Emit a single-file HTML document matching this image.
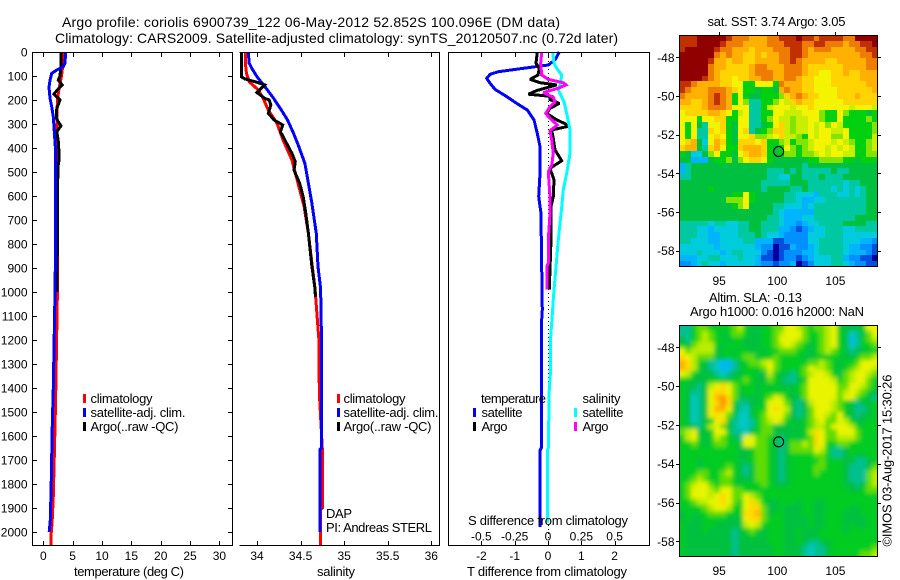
<!DOCTYPE html>
<html>
<head>
<meta charset="utf-8">
<title>Argo profile</title>
<style>
html,body{margin:0;padding:0;background:#fff;}
svg{display:block;}
text{font-family:"Liberation Sans",sans-serif;font-size:12px;fill:#000;}
.lg{font-size:13px;}
.ttl{font-size:14px;}
.frame{fill:none;stroke:#000;stroke-width:1;shape-rendering:crispEdges;}
</style>
</head>
<body>
<svg id="chart" xmlns="http://www.w3.org/2000/svg" width="900" height="580" viewBox="0 0 900 580">
<defs>
<clipPath id="clip-sla"><rect x="679" y="325" width="199" height="232"/></clipPath>
<filter id="soft" filterUnits="userSpaceOnUse" x="640" y="290" width="260" height="290"><feGaussianBlur stdDeviation="2"/></filter>
</defs>
<text class="ttl" x="62" y="27" textLength="498" lengthAdjust="spacing">Argo profile: coriolis 6900739_122 06-May-2012 52.852S 100.096E (DM data)</text>
<text class="ttl" x="55" y="43" textLength="563" lengthAdjust="spacing">Climatology: CARS2009. Satellite-adjusted climatology: synTS_20120507.nc (0.72d later)</text>

<g id="g-temp"></g>
<g id="g-sal"></g>
<g id="g-diff"></g>
<g id="g-sst"></g>
<g id="g-sla"></g>

<path class="frame" d="M32.5 52.5H232.5V545.5H32.5Z"/>
<path class="frame" d="M239.5 52.5H439.5V545.5H239.5"/>
<path class="frame" d="M448.5 52.5H649.5V545.5H448.5Z"/>
<rect class="frame" x="679.5" y="35.5" width="198" height="231"/>
<rect class="frame" x="679.5" y="325.5" width="198" height="231"/>

<text class="lg" x="74" y="576" textLength="110" lengthAdjust="spacing">temperature (deg C)</text>
<text class="lg" x="317" y="576" textLength="38" lengthAdjust="spacing">salinity</text>
<text class="lg" x="467" y="576" textLength="160" lengthAdjust="spacing">T difference from climatology</text>
<text class="lg" x="468" y="525" textLength="160" lengthAdjust="spacing">S difference from climatology</text>

<rect x="83" y="394" width="3" height="9" fill="#ff0000"/>
<rect x="83" y="408" width="3" height="9" fill="#0000ff"/>
<rect x="83" y="422" width="3" height="9" fill="#000"/>
<text class="lg" x="90.500" y="403" textLength="62" lengthAdjust="spacing">climatology</text>
<text class="lg" x="90.500" y="417" textLength="95" lengthAdjust="spacing">satellite-adj. clim.</text>
<text class="lg" x="90.500" y="431" textLength="88" lengthAdjust="spacing">Argo(..raw -QC)</text>

<rect x="337" y="394" width="3" height="9" fill="#ff0000"/>
<rect x="337" y="408" width="3" height="9" fill="#0000ff"/>
<rect x="337" y="422" width="3" height="9" fill="#000"/>
<text class="lg" x="343.500" y="403" textLength="62" lengthAdjust="spacing">climatology</text>
<text class="lg" x="343.500" y="417" textLength="95" lengthAdjust="spacing">satellite-adj. clim.</text>
<text class="lg" x="343.500" y="431" textLength="88" lengthAdjust="spacing">Argo(..raw -QC)</text>

<text class="lg" x="326" y="518" textLength="26" lengthAdjust="spacing">DAP</text>
<text class="lg" x="326" y="532" textLength="106" lengthAdjust="spacing">PI: Andreas STERL</text>

<text class="lg" x="481" y="403" textLength="65" lengthAdjust="spacing">temperature</text>
<text class="lg" x="582.500" y="403" textLength="38" lengthAdjust="spacing">salinity</text>
<rect x="473" y="408" width="3" height="9" fill="#0000ff"/>
<rect x="473" y="422" width="3" height="9" fill="#000"/>
<rect x="574" y="408" width="3" height="9" fill="#00ffff"/>
<rect x="574" y="422" width="3" height="9" fill="#ff00ff"/>
<text class="lg" x="481.500" y="417" textLength="41" lengthAdjust="spacing">satellite</text>
<text class="lg" x="481.500" y="431" textLength="26" lengthAdjust="spacing">Argo</text>
<text class="lg" x="582.500" y="417" textLength="41" lengthAdjust="spacing">satellite</text>
<text class="lg" x="582.500" y="431" textLength="26" lengthAdjust="spacing">Argo</text>

<text class="lg" x="707.500" y="26" textLength="138" lengthAdjust="spacing">sat. SST: 3.74  Argo: 3.05</text>
<text class="lg" x="709" y="302" textLength="93" lengthAdjust="spacing">Altim. SLA: -0.13</text>
<text class="lg" x="690" y="316" textLength="174" lengthAdjust="spacing">Argo h1000: 0.016 h2000: NaN</text>
<text class="lg" transform="translate(891.500 546.500) rotate(-90)" textLength="172" lengthAdjust="spacing">©IMOS 03-Aug-2017 15:30:26</text>
</svg>
<script>
// axis ticks
const depthTicks = [0,100,200,300,400,500,600,700,800,900,1000,1100,1200,1300,1400,1500,1600,1700,1800,1900,2000];
const tempTicks = [0,5,10,15,20,25,30];
const salTicks = [34,34.5,35,35.5,36];
const tDiffTicks = [-2,-1,0,1,2];
const sDiffTicks = [-0.5,-0.25,0,0.25,0.5];
const sDiffLabels = ['-0.5','-0.25','0','0.25','0.5'];
const latTicks = [48,50,52,54,56,58];
const lonTicks = [95,100,105];

// temperature profiles
const tClimDepth = [0,60,100,150,200,300,500,1000,1300,1450,1650,1850,1960,2020,2054];
const tClimValues = [3.3,3.3,3.1,2.7,2.4,2.3,2.4,2.4,2.2,2.1,1.9,1.7,1.5,1.3,1.3];
const tSatDepth = [0,47,61,75,89,117,147,193,228,270,332,394,478,900,1000,1400,1550,1800,1950,2000];
const tSatValues = [3.8,3.7,3.4,2.3,1.43,1.14,.97,1.14,1.43,1.7,1.87,2.05,2.05,2.05,2.0,1.7,1.53,1.35,1.2,1.0];
const tArgoDepth = [0,60,100,117,137,158,176,200,235,276,308,332,380,450,478,600,800,1000];
const tArgoValues = [3.0,3.0,2.85,2.56,3.2,2.4,1.8,2.85,2.3,2.2,3.0,2.3,2.6,2.7,2.5,2.4,2.4,2.3];

// salinity profiles
const sClimDepth = [0,60,90,124,158,193,242,297,367,450,547,644,756,894,985,1200,1400,1450,1660,1900,1905,2054];
const sClimValues = [33.87,33.87,33.88,33.91,34.015,34.07,34.13,34.23,34.30,34.40,34.47,34.54,34.59,34.635,34.665,34.71,34.715,34.72,34.75,34.75,34.73,34.73];
const sSatDepth = [0,47,68,103,144,193,242,283,339,394,464,547,631,756,894,985,1200,1650,1655,2000];
const sSatValues = [33.90,33.91,33.94,34.0,34.09,34.19,34.28,34.35,34.42,34.48,34.55,34.59,34.63,34.68,34.70,34.73,34.74,34.74,34.725,34.725];
const sArgoDepth = [0,103,112,124,137,151,169,193,200,221,255,283,304,332,367,422,457,492,547,603,672,756,894,985,1020];
const sArgoValues = [33.82,33.82,33.86,33.98,34.09,34.05,34.0,34.09,34.14,34.16,34.13,34.195,34.295,34.27,34.32,34.40,34.44,34.425,34.49,34.53,34.56,34.59,34.63,34.665,34.67];

// difference profiles
const dtSatDepth = [0,33,54,68,82,93,110,131,156,186,214,242,283,339,394,506,603,672,783,1075,1140,1650,1660,1980];
const dtSatValues = [.34,.21,.01,-.74,-1.49,-1.74,-1.84,-1.74,-1.59,-1.24,-.94,-.62,-.42,-.32,-.24,-.24,-.28,-.21,-.2,-.17,-.2,-.2,-.24,-.24];
const dtArgoDepth = [0,47,68,96,114,128,137,161,176,186,197,214,235,256,283,308,325,360,408,453,485,533,603,644,783,990];
const dtArgoValues = [-.32,-.36,-.26,-.3,-.54,-.24,.26,-.34,-.59,.16,.04,.34,.06,-.04,.26,.66,.11,.16,.21,.41,.06,.18,.16,.09,.09,.04];
const dsSatDepth = [0,47,68,96,125,158,207,256,325,422,506,575,672,742,783,992,1200,1325,1400,1650,1660,1960];
const dsSatValues = [.035,.045,.065,.103,.095,.077,.12,.14,.165,.165,.14,.115,.098,.085,.077,.045,.019,.02,.01,.002,-.005,-.005];
const dsArgoDepth = [0,47,96,114,128,137,151,169,189,207,228,256,276,304,328,367,422,471,499,603,672,783,880,890,990];
const dsArgoValues = [-.047,-.055,-.047,.002,.115,.135,.077,-.035,.04,.052,.015,-.017,.015,.07,.015,.028,.04,.028,.002,.015,.015,.002,.002,-.006,-.006];

const profileFloat = [100.096,52.852];

// colour levels for the map cells
const mapLevels = '0123456789abcdef';
const sstColors = ['#0000a0','#0050e0','#0090ff','#00b4ff','#00ccdd','#00c8a0','#00c040','#00d010','#84e400','#c8ee00','#f4f400','#ffd400','#ffb000','#ee7c00','#c03000','#900000'];
const slaColors = ['#0000a0','#0050e0','#0090ff','#00b8f0','#00c8c0','#00c090','#00c040','#00cc20','#60dd00','#b8ec00','#e8f400','#ffd800','#ffb000','#ff9000','#c03000','#900000'];

// sea surface temperature grid, north to south
const sstRows = [
"eeeff fffed ddccc ddeee feede eeedd ffff",
"eeeff ffedd dcccc dddee eddee dddcd deef",
"effff feddc ccbcc cddde edcdd dcccc ddee",
"fffff fdcdc cbbcb ccdde edccc ccccc cdde",
"fffff eccbc cbbcc ccdde dcccc bbccc ccdd",
"fffff dccbb bbcdd cccdd dcbbb bbbcc ccdd",
"fffff dcbbb bbcdd dccdd dcbba abbcb bccc",
"ffffe dcbba bbccd dccdd cbbaa abbbb bccc",
"eedcc ccbba a77aa a7dcc cbbaa abbbb bbcc",
"edccc dddcb a7767 76cdc cbbaa aabbb bbbc",
"dcccc dedc7 a7667 778bc dcbba aabbb cbbb",
"ccbbc dedc7 a8557 78a9b cbbaa aaabb bbbb",
"bbbbc dddca aa557 9aaa9 aabaa aaaa9 aaa9",
"abbbb ccba7 9a557 7aa99 9aaa8 77a87 7767",
"aaa7a abb77 aa557 8a998 99aa8 77a77 7787",
"a7a65 aab76 aa556 7ab98 99a9a 8a977 7778",
"a7a55 bab76 ab567 8bb98 99a9a a99a7 7778",
"a7a55 aba76 aab88 9ab99 87a9a a88a7 7779",
"abc64 acb76 bbbab 77897 889aa a9a98 7789",
"bcc65 bca77 bcccb 767a8 789aa 9a9a9 7789",
"76446 8a776 abccb 76788 7889a 9aa99 7788",
"66333 67786 8abba 76666 66778 88877 6777",
"35666 66666 66666 66666 65666 66666 6666",
"35666 66666 66666 55565 65555 56556 6666",
"55666 66666 66666 55446 65556 55566 6666",
"66666 66666 66665 55556 66555 55545 5666",
"66666 76666 66665 66665 56555 54545 4566",
"66666 66667 7a766 66655 44435 55445 4566",
"66666 66688 8a766 66655 43344 55555 5566",
"66666 66667 8a666 65544 43455 55555 5566",
"66666 66666 66666 65433 33355 55555 5566",
"66666 66666 66666 55433 34455 55555 6666",
"55555 45544 55665 55433 23445 55566 6655",
"55544 34444 55665 55332 12344 55544 5555",
"55544 33444 55565 44322 22444 55544 4444",
"55444 33444 45533 31122 22445 55544 4332",
"44444 43444 44432 20113 22345 55543 3221",
"44454 44345 54442 10122 23345 55543 3321",
"33344 55444 54431 10122 12344 45532 2110",
"22345 44344 44432 21223 01244 45543 2211"
];

// sea level anomaly grid, north to south
const slaRows = [
"55788 77778 97667 788aa 98788 9a766 67aa",
"55789 87678 87667 789aa a8778 9a764 568a",
"65789 87767 76667 78aaa 98778 9a763 5789",
"76899 97677 76667 789a9 87678 9a764 5778",
"a8999 96776 77676 77888 77678 98765 6677",
"ba988 86677 78867 78777 76677 77766 7889",
"cb976 54335 67889 a8777 77889 87677 8aaa",
"cb976 54335 67778 a8777 78a99 87678 9aa9",
"a9766 65456 67766 97665 789aa 97689 aa98",
"77666 77767 78766 87655 67aaa a9789 aa87",
"76656 9aba8 77767 67666 78aaa aa88a a987",
"76556 abba8 67767 77776 78aaa aa89a 9876",
"76456 acdb8 66667 8a976 68aaa aa8aa 8765",
"76456 abdb7 55667 aaa86 569aa a9876 5667",
"76456 acca6 54677 aba96 568aa a9876 5567",
"76456 aba86 44678 aaa86 568aa 98a76 5667",
"76456 7ab75 44578 9a976 6789a 88a97 6677",
"76657 9a865 44578 86667 67899 8aaa9 7777",
"89a66 7aa75 54678 86666 679ba 88aaa 8777",
"79a76 79876 5aa88 76567 678ba 88999 8777",
"77876 78877 6aa88 76568 898ba 77887 7777",
"77777 77777 66788 76568 888a9 75567 7777",
"77777 77777 66788 76567 77788 75567 6677",
"77767 77777 66788 76567 77778 77766 5567",
"77767 77787 65688 76567 77788 77765 5568",
"77788 77897 65688 76567 77787 77765 5589",
"77898 77887 66688 76567 77777 77765 5589",
"789aa 87887 67778 76667 77777 77766 5689",
"78aaa 98aa8 87777 77777 77777 77776 6788",
"78aaa 9aba8 8a987 77777 77777 77777 7777",
"77899 aaba8 7ab97 66777 67766 77777 7777",
"77778 9aa97 7abb8 66766 67766 77776 6777",
"67677 88877 7bbc8 67766 67766 77766 6777",
"67667 77766 6abb8 77766 66766 77766 6677",
"76667 76666 69a97 77766 66766 77767 6677",
"76667 66665 67876 77766 76667 77767 7777",
"76666 66665 66766 77766 76667 77777 7777",
"76666 66665 66666 77766 76556 67777 7777",
"76666 66665 66666 67766 65455 67777 7778",
"76666 66665 66666 67766 65455 67777 7889"
];

const NS = 'http://www.w3.org/2000/svg';
function mk(tag, attrs, parent) {
  const el = document.createElementNS(NS, tag);
  for (const k in attrs) el.setAttribute(k, attrs[k]);
  parent.appendChild(el);
  return el;
}

// axis functions
function yDepth(d) { return 52 + d * 0.24; }
function xTemp(t) { return 43.3 + t * 5.87; }
function xSal(s) { return 257 + (s - 34) * 87.15; }
function xTDiff(t) { return 548 + t * 33.3; }
function xSDiff(s) { return 548 + s * 133.3; }
function xLon(lon) { return 777.3 + (lon - 100) * 11.63; }
function yLatSst(lat) { return 57.3 + (lat - 48) * 19.33; }
function yLatSla(lat) { return 347.3 + (lat - 48) * 19.4; }

function hTick(g, x1, x2, y) {
  const el = mk('line', {x1: x1, x2: x2, y1: Math.round(y) + .5, y2: Math.round(y) + .5, stroke: '#000', 'shape-rendering': 'crispEdges'}, g);
  
  
}
function vTick(g, x, y1, y2) {
  const el = mk('line', {x1: Math.round(x) + .5, x2: Math.round(x) + .5, y1: y1, y2: y2, stroke: '#000', 'shape-rendering': 'crispEdges'}, g);
  
  
}
function label(g, str, x, y, anchor) {
  const el = mk('text', {x: x, y: y, 'text-anchor': anchor}, g);
  el.textContent = str;
  
  
}
function series(g, name, depths, values, xf, color) {
  const pts = depths.map((d, i) => xf(values[i]).toFixed(1) + ',' + yDepth(d).toFixed(1)).join(' ');
  const el = mk('polyline', {points: pts, fill: 'none', stroke: color, 'stroke-width': 3, 'stroke-linejoin': 'miter', 'stroke-miterlimit': 2, 'shape-rendering': 'crispEdges'}, g);
  
  
}

// temperature panel
const gT = document.getElementById('g-temp');
series(gT, 'temperature-climatology-line', tClimDepth, tClimValues, xTemp, '#ff0000');
series(gT, 'temperature-argo-line', tArgoDepth, tArgoValues, xTemp, '#000000');
series(gT, 'temperature-satellite-line', tSatDepth, tSatValues, xTemp, '#0000ff');
depthTicks.forEach(d => {
  hTick(gT, 33, 37, yDepth(d));
  hTick(gT, 228, 232, yDepth(d));
  label(gT, String(d), 27.5, yDepth(d) + 4.5, 'end');
});
tempTicks.forEach(t => {
  vTick(gT, xTemp(t), 53, 57);
  vTick(gT, xTemp(t), 541, 545);
  label(gT, String(t), xTemp(t), 560, 'middle');
});

// salinity panel
const gS = document.getElementById('g-sal');
series(gS, 'salinity-climatology-line', sClimDepth, sClimValues, xSal, '#ff0000');
series(gS, 'salinity-satellite-line', sSatDepth, sSatValues, xSal, '#0000ff');
series(gS, 'salinity-argo-line', sArgoDepth, sArgoValues, xSal, '#000000');
salTicks.forEach(s => {
  vTick(gS, xSal(s), 53, 57);
  vTick(gS, xSal(s), 541, 545);
  label(gS, String(s), xSal(s), 560, 'middle');
});

// difference panel
const gD = document.getElementById('g-diff');
const zero = mk('line', {x1: 548.5, x2: 548.5, y1: 53, y2: 545, stroke: '#000', 'stroke-dasharray': '1 3', 'shape-rendering': 'crispEdges'}, gD);


series(gD, 'diff-temperature-satellite-line', dtSatDepth, dtSatValues, xTDiff, '#0000ff');
series(gD, 'diff-temperature-argo-line', dtArgoDepth, dtArgoValues, xTDiff, '#000000');
series(gD, 'diff-salinity-satellite-line', dsSatDepth, dsSatValues, xSDiff, '#00ffff');
series(gD, 'diff-salinity-argo-line', dsArgoDepth, dsArgoValues, xSDiff, '#ff00ff');
tDiffTicks.forEach(t => {
  vTick(gD, xTDiff(t), 53, 57);
  vTick(gD, xTDiff(t), 541, 545);
  label(gD, String(t), xTDiff(t), 560, 'middle');
});
sDiffTicks.forEach((s, i) => {
  label(gD, sDiffLabels[i], xSDiff(s), 540.5, 'middle');
});

// maps
function drawMap(g, rows, palette, left, top, w, h, extend) {
  const clean = rows.map(r => r.replace(/ /g, ''));
  const nRows = clean.length;
  const nCols = clean[0].length;
  clean.forEach((row, r) => {
    for (let c = 0; c < nCols; c++) {
      const level = mapLevels.indexOf(row[c] || row[row.length - 1]);
      const x0 = Math.round(left + w * c / nCols);
      const x1 = Math.round(left + w * (c + 1) / nCols);
      const y0 = Math.round(top + h * r / nRows);
      const y1 = Math.round(top + h * (r + 1) / nRows);
      const ex0 = c === 0 ? extend : 0;
      const ex1 = c === nCols - 1 ? extend : 0;
      const ey0 = r === 0 ? extend : 0;
      const ey1 = r === nRows - 1 ? extend : 0;
      const cell = mk('rect', {x: x0 - ex0, y: y0 - ey0, width: x1 - x0 + ex0 + ex1, height: y1 - y0 + ey0 + ey1, fill: palette[level], 'shape-rendering': 'crispEdges'}, g);
      
      
    }
  });
}
function mapDecor(g, yLat, top, bottom, labelY) {
  latTicks.forEach(lat => {
    const y = yLat(lat);
    hTick(g, 676, 679, y);
    hTick(g, 878, 881, y);
    label(g, '-' + lat, 674.5, y + 4.5, 'end');
  });
  lonTicks.forEach(lon => {
    vTick(g, xLon(lon), top - 3, top);
    label(g, String(lon), xLon(lon), labelY, 'middle');
  });
}
function marker(g, cx, cy, name) {
  const el = mk('circle', {cx: cx, cy: cy, r: 5, fill: 'none', stroke: '#000', 'stroke-width': 1.1}, g);
  
  
}

const gSst = document.getElementById('g-sst');
drawMap(gSst, sstRows, sstColors, 679, 35, 199, 232, 0);
mapDecor(gSst, yLatSst, 35, 267, 285);
marker(gSst, xLon(profileFloat[0]) + .2, yLatSst(profileFloat[1]) + 0.4, 'sst-float-marker');

const gSla = document.getElementById('g-sla');
const slaClip = mk('g', {'clip-path': 'url(#clip-sla)'}, gSla);


const slaBlur = mk('g', {filter: 'url(#soft)'}, slaClip);


drawMap(slaBlur, slaRows, slaColors, 679, 325, 199, 232, 14);
mapDecor(gSla, yLatSla, 325, 557, 575);
marker(gSla, xLon(profileFloat[0]) + .2, yLatSla(profileFloat[1]) + 0.4, 'sla-float-marker');
</script>
</body>
</html>
